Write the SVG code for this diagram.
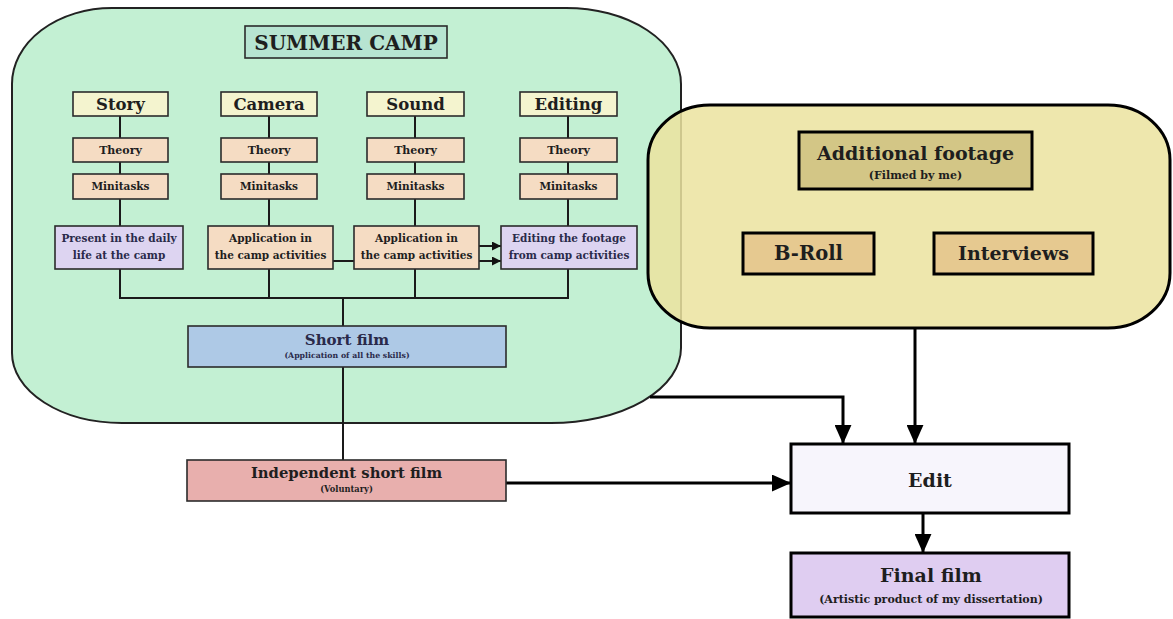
<svg xmlns="http://www.w3.org/2000/svg" width="1173" height="619" viewBox="0 0 1173 619">
  <defs>
    <style>
      text { font-family: "DejaVu Serif", "Liberation Serif", serif; font-weight: bold; text-anchor: middle; fill: #1e1e1e; }
      .navy { fill: #2a2a4a; }
      .thin { stroke: #2b2b2b; stroke-width: 1.6; }
      .thick { stroke: #000; stroke-width: 3; }
      .link { fill: none; stroke: #1a1a1a; stroke-width: 2; }
      .flow { fill: none; stroke: #000; stroke-width: 3; }
      .head { fill: #f4f4cf; }
      .peach { fill: #f5dcc3; }
      .lav { fill: #ddd4f1; }
    </style>
    <marker id="smallArrow" viewBox="0 0 10 10" refX="10" refY="5" markerWidth="9" markerHeight="9" markerUnits="userSpaceOnUse" orient="auto">
      <path d="M0,0 L10,5 L0,10 Z" fill="#111"/>
    </marker>
    <marker id="bigArrow" viewBox="0 0 18 16" refX="18" refY="8" markerWidth="19" markerHeight="17" markerUnits="userSpaceOnUse" orient="auto">
      <path d="M0,0 L18,8 L0,16 Z" fill="#000"/>
    </marker>
  </defs>

  <rect width="1173" height="619" fill="#fff"/>

  <!-- Summer camp area -->
  <g id="summer-camp">
    <path d="M112 8 H566 A115 76 0 0 1 681 84 V348 A130 75 0 0 1 551 423 H122 A110 70 0 0 1 12 353 V84 A100 76 0 0 1 112 8 Z" fill="#c3f0d3" stroke="#222" stroke-width="2"/>
    <rect x="245" y="26" width="202" height="32" fill="#b7e4d1" class="thin"/>
    <text x="346" y="50" font-size="20">SUMMER CAMP</text>
  </g>

  <!-- Additional footage area (drawn over the camp edge) -->
  <g id="additional-area">
    <rect x="648" y="105" width="522" height="223" rx="62" ry="55" fill="#ebe3a0" fill-opacity="0.86" stroke="#000" stroke-width="3"/>
  </g>

  <!-- Connectors -->
  <g id="connectors">
    <!-- column stems -->
    <path class="link" d="M120 116 V226 M269 116 V226 M415 116 V226 M568 116 V226"/>
    <!-- bus into short film -->
    <path class="link" d="M120 269 V298 H568 V269 M269 269 V298 M415 269 V298 M343 298 V326"/>
    <!-- short film to independent short film -->
    <path class="link" d="M343 367 V460"/>
    <!-- camp activities links -->
    <path class="link" d="M333 261 H354"/>
    <path class="link" d="M479 246 H501" marker-end="url(#smallArrow)"/>
    <path class="link" d="M479 261 H501" marker-end="url(#smallArrow)"/>
    <!-- flows into edit -->
    <path class="flow" d="M650 397 H843 V444" marker-end="url(#bigArrow)"/>
    <path class="flow" d="M915 328 V444" marker-end="url(#bigArrow)"/>
    <path class="flow" d="M506 483 H791" marker-end="url(#bigArrow)"/>
    <path class="flow" d="M923 513 V553" marker-end="url(#bigArrow)"/>
  </g>

  <!-- Story column -->
  <g id="story">
    <rect x="73" y="92" width="95" height="24" class="head thin"/>
    <text x="120.5" y="110" font-size="16.5">Story</text>
  </g>
  <g id="story-theory">
    <rect x="73" y="138" width="95" height="24" class="peach thin"/>
    <text x="120.5" y="154" font-size="11">Theory</text>
  </g>
  <g id="story-minitasks">
    <rect x="73" y="174" width="95" height="25" class="peach thin"/>
    <text x="120.5" y="190" font-size="10.5">Minitasks</text>
  </g>
  <g id="story-daily">
    <rect x="55" y="226" width="128" height="43" class="lav thin"/>
    <text class="navy" x="119" y="242" font-size="10.5">Present in the daily</text>
    <text class="navy" x="119" y="259" font-size="10.5">life at the camp</text>
  </g>

  <!-- Camera column -->
  <g id="camera">
    <rect x="221" y="92" width="96" height="24" class="head thin"/>
    <text x="269" y="110" font-size="16.5">Camera</text>
  </g>
  <g id="camera-theory">
    <rect x="221" y="138" width="96" height="24" class="peach thin"/>
    <text x="269" y="154" font-size="11">Theory</text>
  </g>
  <g id="camera-minitasks">
    <rect x="221" y="174" width="96" height="25" class="peach thin"/>
    <text x="269" y="190" font-size="10.5">Minitasks</text>
  </g>
  <g id="camera-application">
    <rect x="208" y="226" width="125" height="43" class="peach thin"/>
    <text x="270.5" y="242" font-size="10.5">Application in</text>
    <text x="270.5" y="259" font-size="10.5">the camp activities</text>
  </g>

  <!-- Sound column -->
  <g id="sound">
    <rect x="367" y="92" width="97" height="24" class="head thin"/>
    <text x="415.5" y="110" font-size="16.5">Sound</text>
  </g>
  <g id="sound-theory">
    <rect x="367" y="138" width="97" height="24" class="peach thin"/>
    <text x="415.5" y="154" font-size="11">Theory</text>
  </g>
  <g id="sound-minitasks">
    <rect x="367" y="174" width="97" height="25" class="peach thin"/>
    <text x="415.5" y="190" font-size="10.5">Minitasks</text>
  </g>
  <g id="sound-application">
    <rect x="354" y="226" width="125" height="43" class="peach thin"/>
    <text x="416.5" y="242" font-size="10.5">Application in</text>
    <text x="416.5" y="259" font-size="10.5">the camp activities</text>
  </g>

  <!-- Editing column -->
  <g id="editing">
    <rect x="520" y="92" width="97" height="24" class="head thin"/>
    <text x="568.5" y="110" font-size="16.5">Editing</text>
  </g>
  <g id="editing-theory">
    <rect x="520" y="138" width="97" height="24" class="peach thin"/>
    <text x="568.5" y="154" font-size="11">Theory</text>
  </g>
  <g id="editing-minitasks">
    <rect x="520" y="174" width="97" height="25" class="peach thin"/>
    <text x="568.5" y="190" font-size="10.5">Minitasks</text>
  </g>
  <g id="editing-footage">
    <rect x="501" y="226" width="136" height="43" class="lav thin"/>
    <text class="navy" x="569" y="242" font-size="10.5">Editing the footage</text>
    <text class="navy" x="569" y="259" font-size="10.5">from camp activities</text>
  </g>

  <!-- Short films -->
  <g id="short-film">
    <rect x="188" y="326" width="318" height="41" fill="#aec9e6" class="thin"/>
    <text class="navy" x="347" y="345" font-size="15">Short film</text>
    <text class="navy" x="347" y="358" font-size="7.8">(Application of all the skills)</text>
  </g>
  <g id="independent-film">
    <rect x="187" y="460" width="319" height="41" fill="#e8afad" class="thin"/>
    <text x="346.5" y="478" font-size="14.8">Independent short film</text>
    <text x="346.5" y="492" font-size="8.3">(Voluntary)</text>
  </g>

  <!-- Additional footage -->
  <g id="additional-footage">
    <rect x="799" y="132" width="233" height="57" fill="#d3c686" class="thick"/>
    <text x="915.5" y="160" font-size="19">Additional footage</text>
    <text x="915.5" y="179" font-size="11">(Filmed by me)</text>
  </g>
  <g id="b-roll">
    <rect x="743" y="233" width="131" height="41" fill="#e6c990" class="thick"/>
    <text x="808.5" y="260" font-size="19.5">B-Roll</text>
  </g>
  <g id="interviews">
    <rect x="934" y="233" width="159" height="41" fill="#e6c990" class="thick"/>
    <text x="1013.5" y="260" font-size="19">Interviews</text>
  </g>

  <!-- Edit and final -->
  <g id="edit">
    <rect x="791" y="444" width="278" height="69" fill="#f7f5fc" class="thick"/>
    <text x="930" y="487" font-size="19">Edit</text>
  </g>
  <g id="final-film">
    <rect x="791" y="553" width="278" height="64" fill="#dfcdf1" class="thick"/>
    <text x="931" y="582" font-size="19">Final film</text>
    <text x="931" y="603" font-size="11">(Artistic product of my dissertation)</text>
  </g>
</svg>
